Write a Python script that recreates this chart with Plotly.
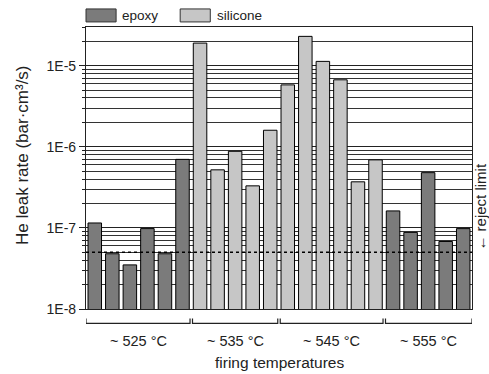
import plotly.graph_objects as go
import numpy as np

# ---- data ----
groups = ["~ 525 °C", "~ 535 °C", "~ 545 °C", "~ 555 °C"]
group_sizes = [6, 5, 6, 5]
epoxy_525 = [1.15e-7, 4.8e-8, 3.5e-8, 9.8e-8, 4.8e-8, 7.0e-7]
silicone_535 = [1.9e-5, 5.2e-7, 8.8e-7, 3.3e-7, 1.6e-6]
silicone_545 = [5.8e-6, 2.3e-5, 1.13e-5, 6.7e-6, 3.7e-7, 6.9e-7]
epoxy_555 = [1.62e-7, 8.8e-8, 4.8e-7, 6.8e-8, 9.8e-8]
reject_limit = 5e-8
ytick_vals = [1e-8, 1e-7, 1e-6, 1e-5]
ytick_text = ["1E-8", "1E-7", "1E-6", "1E-5"]

FONT = "Liberation Sans, Arial, sans-serif"
DARK = "#7b7b7b"
LIGHT = "#c6c6c6"

# positions
starts = np.cumsum([0] + group_sizes[:-1])
n_total = sum(group_sizes)
x_e1 = list(range(starts[0], starts[0] + group_sizes[0]))
x_s1 = list(range(starts[1], starts[1] + group_sizes[1]))
x_s2 = list(range(starts[2], starts[2] + group_sizes[2]))
x_e2 = list(range(starts[3], starts[3] + group_sizes[3]))

fig = go.Figure()
fig.add_trace(go.Bar(x=x_e1 + x_e2, y=epoxy_525 + epoxy_555, name="epoxy",
                     marker=dict(color=DARK, line=dict(color="black", width=1)),
                     width=0.77, showlegend=False))
fig.add_trace(go.Bar(x=x_s1 + x_s2, y=silicone_535 + silicone_545, name="silicone",
                     marker=dict(color=LIGHT, line=dict(color="black", width=1)),
                     width=0.77, showlegend=False))
fig.add_trace(go.Scatter(x=[-0.5, n_total - 0.5], y=[reject_limit, reject_limit],
                         mode="lines", line=dict(color="black", width=1.5, dash="3px,3px"),
                         showlegend=False, hoverinfo="skip"))

minor_vals = [m * 10.0 ** e for e in range(-8, -4) for m in range(2, 10)]
minor_vals = [v for v in minor_vals if v <= 3.01e-5]

fig.update_layout(
    width=489, height=374,
    margin=dict(l=86, r=17, t=27, b=65),
    paper_bgcolor="white", plot_bgcolor="white",
    barmode="overlay",
    font=dict(family=FONT, size=13, color="#222"),
    xaxis=dict(range=[-0.5, n_total - 0.5], showticklabels=False, ticks="",
               showgrid=False, zeroline=False, showline=True, linecolor="#222",
               linewidth=1.2, mirror=True),
    yaxis=dict(type="log", range=[-8, np.log10(3e-5)],
               tickvals=ytick_vals, ticktext=ytick_text,
               ticks="outside", ticklen=6, tickcolor="#222",
               tickfont=dict(size=14, family=FONT, color="#222"),
               showgrid=True, gridcolor="#222", gridwidth=1.4,
               showline=True, linecolor="#222", linewidth=1.2, mirror=True,
               minor=dict(tickvals=minor_vals, showgrid=True, gridcolor="#333",
                          gridwidth=1, ticks="outside", ticklen=3, tickcolor="#222")),
)

shapes = []
annotations = []
# group brackets
for g, (s, n) in enumerate(zip(starts, group_sizes)):
    x0 = s - 0.5 + (0.07 if g > 0 else 0)
    x1 = s + n - 0.5 - (0.07 if g < len(groups) - 1 else 0)
    shapes.append(dict(type="path", xref="x", yref="paper",
                       path=f"M {x0},-0.034 L {x0},-0.051 L {x1},-0.051 L {x1},-0.034",
                       line=dict(color="#222", width=1.2)))
    annotations.append(dict(x=(s + s + n - 1) / 2, y=-0.112, xref="x", yref="paper",
                            text=groups[g], showarrow=False,
                            font=dict(size=14.5, family=FONT, color="#222"),
                            xanchor="center", yanchor="middle"))

annotations.append(dict(x=0.5, y=-0.19, xref="paper", yref="paper",
                        text="firing temperatures", showarrow=False,
                        font=dict(size=15.5, family=FONT, color="#222"),
                        xanchor="center", yanchor="middle"))
annotations.append(dict(x=-0.163, y=0.543, xref="paper", yref="paper",
                        text="He leak rate (bar·cm³/s)", showarrow=False, textangle=-90,
                        font=dict(size=17, family=FONT, color="#222"),
                        xanchor="center", yanchor="middle"))
annotations.append(dict(x=1.022, y=0.365, xref="paper", yref="paper",
                        text="← reject limit", showarrow=False, textangle=-90,
                        font=dict(size=15, family=FONT, color="#222"),
                        xanchor="center", yanchor="middle"))

# legend (custom swatches)
leg = [("epoxy", DARK, 0.0), ("silicone", LIGHT, 0.244)]
for name, col, xs in leg:
    shapes.append(dict(type="rect", xref="paper", yref="paper",
                       x0=xs, x1=xs + 0.078, y0=1.018, y1=1.064,
                       fillcolor=col, line=dict(color="#333", width=1)))
    annotations.append(dict(x=xs + 0.089, y=1.041, xref="paper", yref="paper",
                            text=name, showarrow=False,
                            font=dict(size=13.5, family=FONT, color="#222"),
                            xanchor="left", yanchor="middle"))

fig.update_layout(shapes=shapes, annotations=annotations)
fig.write_html(
    "out.html",
    config={"displayModeBar": False},
    post_script="document.body.style.margin='0';document.body.style.overflow='hidden';",
)
